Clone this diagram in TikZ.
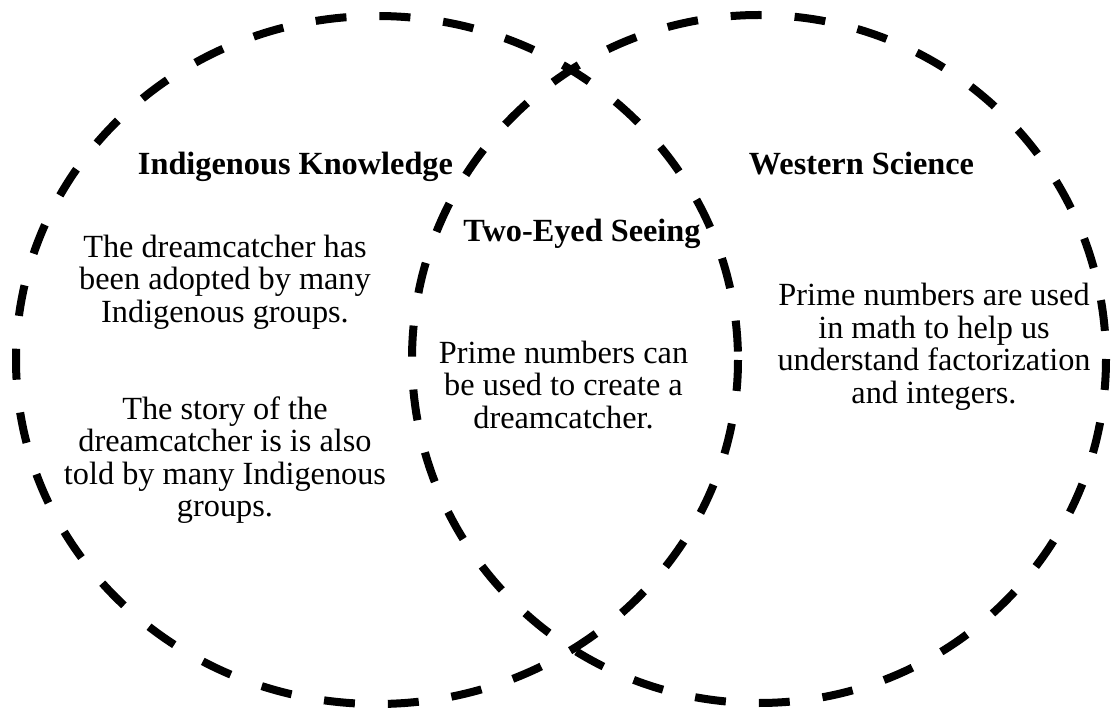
\documentclass[tikz,border=0pt]{standalone}
\usepackage{fontspec}
\setmainfont{Liberation Serif}
\begin{document}
\begin{tikzpicture}[x=1pt,y=-1pt,
  ring/.style={line width=8pt, dash pattern=on 31pt off 33pt},
  txt/.style={align=center, inner sep=0pt, font=\fontsize{32.3}{32.5}\selectfont},
  ttl/.style={inner sep=0pt, anchor=base, font=\fontsize{32.3}{32.5}\selectfont\bfseries}]
\useasboundingbox (0,0) rectangle (1112,711);
\fill[white] (0,0) rectangle (1112,711);
\draw[ring] (377,360) ellipse [x radius=361, y radius=344];
\draw[ring] (759,359) ellipse [x radius=347, y radius=344];
\node[ttl] (ik) at (295.5,175) {Indigenous Knowledge};
\node[ttl] (te) at (582,242) {Two-Eyed Seeing};
\node[ttl] (ws) at (861.5,175) {Western Science};
\node[txt] (l1) at (225,282) {The dreamcatcher has\\been adopted by many\\Indigenous groups.};
\node[txt] (l2) at (225,460) {The story of the\\dreamcatcher is is also\\told by many Indigenous\\groups.};
\node[txt] (m1) at (563.5,385) {Prime numbers can\\be used to create a\\dreamcatcher.};
\node[txt] (r1) at (934,347) {Prime numbers are used\\in math to help us\\understand factorization\\and integers.};
\end{tikzpicture}
\end{document}
